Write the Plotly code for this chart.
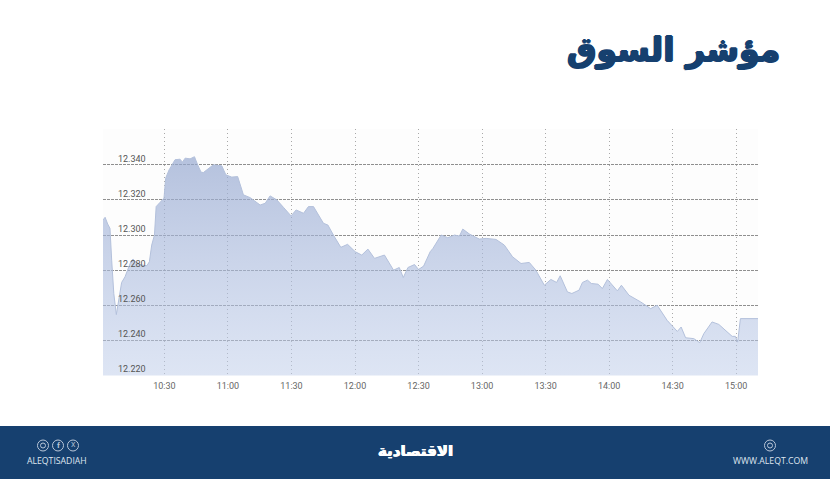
import plotly.graph_objects as go

W = 830
H = 479

# minutes after 10:00 and index value
minutes = [1.0, 2.0, 3.2, 4.3, 5.1, 6.1, 7.3, 8.6, 9.8, 11.4, 13.0, 14.3, 15.2, 16.9, 19.3, 21.7, 22.9, 24.0, 25.3, 26.1,
           28.0, 29.8, 30.6, 32.2, 35.0, 37.4, 38.5, 39.8, 42.1, 44.2, 45.7, 47.3, 48.4, 50.8, 53.1, 57.1, 59.0, 61.8, 64.6, 67.3,
           70.5, 75.2, 77.6, 79.9, 83.1, 86.2, 89.8, 92.2, 95.7, 98.0, 100.4, 105.1, 107.2, 109.8, 113.3, 116.5, 120.1, 123.2, 126.1, 129.2,
           133.9, 138.2, 140.9, 142.8, 145.0, 148.1, 150.0, 152.4, 155.5, 156.8, 160.7, 163.8, 167.0, 169.3, 170.9, 174.0, 178.7, 181.9, 186.6, 190.5,
           194.4, 198.4, 202.3, 205.4, 209.4, 212.5, 215.2, 216.9, 220.3, 222.4, 225.8, 227.4, 229.8, 231.6, 234.8, 236.8, 239.2, 243.9, 245.8, 249.4,
           254.9, 259.6, 262.7, 267.4, 272.2, 274.0, 276.1, 280.0, 282.8, 284.7, 288.6, 291.8, 298.1, 299.6, 300.7, 302.0, 310.3]
index_values = [12308.6, 12310.1, 12306.3, 12303.8, 12285.7, 12266.7, 12254.7, 12264.8, 12273.0, 12276.2, 12281.0, 12285.3, 12286.3, 12284.2, 12282.9, 12282.5, 12284.8, 12294.3, 12300.0, 12316.2,
                12318.7, 12321.0, 12332.4, 12337.1, 12342.9, 12343.2, 12341.5, 12343.8, 12343.4, 12344.6, 12340.0, 12335.8, 12335.6, 12338.1, 12340.0, 12339.4, 12334.3, 12333.0, 12333.3, 12322.9,
                12321.3, 12317.1, 12318.1, 12322.3, 12320.0, 12315.8, 12310.9, 12314.3, 12312.4, 12316.2, 12316.2, 12306.7, 12305.7, 12300.0, 12293.0, 12294.7, 12290.5, 12288.6, 12292.0, 12286.7,
                12288.6, 12280.0, 12281.5, 12275.8, 12281.5, 12283.2, 12280.4, 12282.3, 12290.5, 12292.4, 12300.0, 12298.5, 12300.0, 12299.4, 12303.4, 12300.6, 12297.7, 12298.1, 12297.5, 12294.3,
                12287.6, 12283.8, 12284.4, 12280.0, 12271.4, 12274.7, 12273.0, 12276.8, 12267.6, 12266.7, 12268.6, 12273.0, 12274.3, 12272.4, 12272.0, 12269.5, 12274.7, 12268.2, 12271.4, 12265.7,
                12261.9, 12258.1, 12260.0, 12251.4, 12245.1, 12247.6, 12241.5, 12241.0, 12238.7, 12243.8, 12250.5, 12249.1, 12242.3, 12242.3, 12239.0, 12252.4, 12252.4]

x_ticks = [1.3, 30, 60, 90, 120, 150, 180, 210, 240, 270, 300]
x_labels = ["", "10:30", "11:00", "11:30", "12:00", "12:30", "13:00", "13:30", "14:00", "14:30", "15:00"]
y_ticks = [12220.3, 12240, 12260, 12280, 12300, 12320, 12340, 12360]
y_labels = ["12.220", "12.240", "12.260", "12.280", "12.300", "12.320", "12.340", ""]

title_text = "مؤشر السوق"
logo_text = "الاقتصادية"
handle_text = "ALEQTISADIAH"
site_text = "WWW.ALEQT.COM"

NAVY = "#16406f"
ICON = "#b9c6d8"


# pixel position in the image to paper coordinates
def px(x):
    return x / W


def py(y):
    return 1 - y / H


fig = go.Figure()

fig.add_trace(go.Scatter(
    x=minutes, y=index_values, mode="lines",
    line=dict(color="#b3c0db", width=1),
    fill="tozeroy",
    fillgradient=dict(type="vertical", start=12345, stop=12220,
                      colorscale=[[0, "rgba(150,168,208,0.7)"], [1, "rgba(190,205,235,0.5)"]]),
    showlegend=False,
))

fig.update_layout(
    width=W, height=H,
    margin=dict(l=0, r=0, t=0, b=0),
    paper_bgcolor="white",
    plot_bgcolor="#fdfdfd",
    font=dict(family="Roboto", color="#666666", size=9),
)
fig.update_xaxes(
    domain=[px(103), px(758)], range=[1, 310.3],
    tickvals=x_ticks, ticktext=x_labels, ticks="", ticklabelstandoff=3,
    showgrid=True, gridcolor="#a8a8a8", griddash="1px,3px", gridwidth=1, zeroline=False,
    showline=False,
)
fig.update_yaxes(
    domain=[py(375.5), py(129)], range=[12220, 12360.4],
    tickvals=y_ticks, ticktext=y_labels, ticks="",
    ticklabelposition="inside top", ticklabelstandoff=12,
    tickfont=dict(size=9, color="#555555"),
    showgrid=True, gridcolor="#8f8f8f", griddash="3px,1px", gridwidth=1, zeroline=False,
    showline=False,
)

# footer band
fig.add_shape(type="rect", xref="paper", yref="paper", x0=0, x1=1, y0=0, y1=py(426),
              fillcolor=NAVY, line_width=0, layer="below")

# social icons
for cx in [43, 58, 73, 770]:
    fig.add_shape(type="circle", xref="paper", yref="paper",
                  x0=px(cx - 5.5), x1=px(cx + 5.5), y0=py(445.5 + 5.5), y1=py(445.5 - 5.5),
                  line=dict(color=ICON, width=1))
fig.add_shape(type="circle", xref="paper", yref="paper",
              x0=px(43 - 2.5), x1=px(43 + 2.5), y0=py(445.5 + 2.5), y1=py(445.5 - 2.5),
              line=dict(color=ICON, width=1))
fig.add_shape(type="circle", xref="paper", yref="paper",
              x0=px(770 - 2.5), x1=px(770 + 2.5), y0=py(445.5 + 2.5), y1=py(445.5 - 2.5),
              line=dict(color=ICON, width=1))


def label(x, y, text, size, color, family="Roboto", anchor="center", shadow="none"):
    fig.add_annotation(xref="paper", yref="paper", x=px(x), y=py(y), text=text, showarrow=False,
                       xanchor=anchor, yanchor="middle",
                       font=dict(family=family, size=size, color=color, shadow=shadow))


label(58, 445, "<b>f</b>", 8, ICON)
label(73, 445, "X", 7, ICON)
# DejaVu bold is thinner than the original lettering, a tight shadow thickens it
label(782, 50, "<b>" + title_text + "</b>", 33, NAVY, family="DejaVu Sans", anchor="right",
      shadow="1px 0 0 #16406f, -1px 0 0 #16406f, 0 1px 0 #16406f, 0 -1px 0 #16406f")
label(415, 451, "<b>" + logo_text + "</b>", 15, "white", family="DejaVu Sans",
      shadow="0.5px 0 0 white, -0.5px 0 0 white")
label(57, 461, handle_text, 8.7, "#dfe6f0", family="Open Sans")
label(770, 461, site_text, 8.7, "#dfe6f0", family="Open Sans")

fig.write_html("out.html", config=dict(displayModeBar=False), post_script="document.body.style.margin='0';")
